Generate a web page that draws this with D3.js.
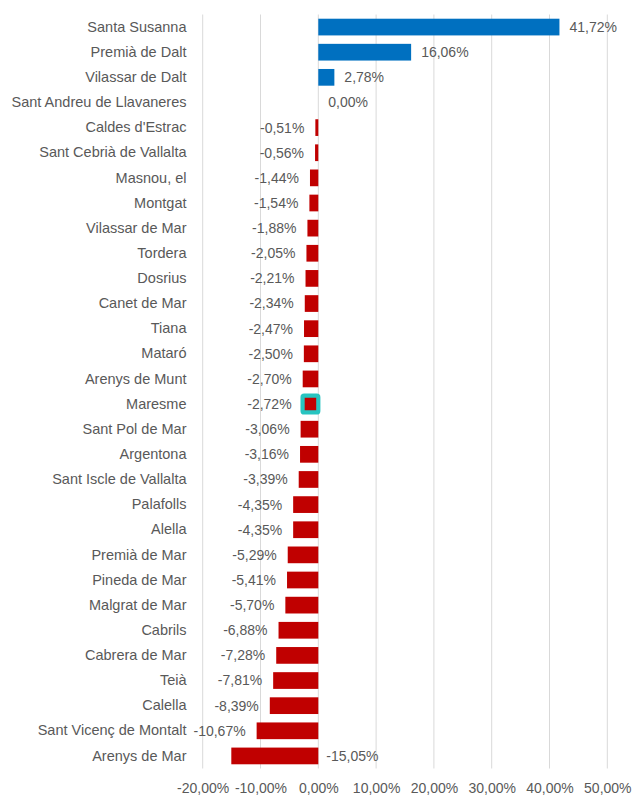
<!DOCTYPE html>
<html>
<head>
<meta charset="utf-8">
<script src="https://cdn.jsdelivr.net/npm/d3@7"></script>
<style>
  html, body { margin: 0; padding: 0; background: #fff; }
  svg { display: block; }
  text { font-family: "Liberation Sans", Arial, sans-serif; fill: #595959; }
</style>
</head>
<body>
<svg id="chart" width="633" height="796"></svg>
<script>
const categories = ["Santa Susanna","Premià de Dalt","Vilassar de Dalt","Sant Andreu de Llavaneres","Caldes d'Estrac","Sant Cebrià de Vallalta","Masnou, el","Montgat","Vilassar de Mar","Tordera","Dosrius","Canet de Mar","Tiana","Mataró","Arenys de Munt","Maresme","Sant Pol de Mar","Argentona","Sant Iscle de Vallalta","Palafolls","Alella","Premià de Mar","Pineda de Mar","Malgrat de Mar","Cabrils","Cabrera de Mar","Teià","Calella","Sant Vicenç de Montalt","Arenys de Mar"];
const values = [41.72,16.06,2.78,0.00,-0.51,-0.56,-1.44,-1.54,-1.88,-2.05,-2.21,-2.34,-2.47,-2.50,-2.70,-2.72,-3.06,-3.16,-3.39,-4.35,-4.35,-5.29,-5.41,-5.70,-6.88,-7.28,-7.81,-8.39,-10.67,-15.05];
const tickValues = [-20,-10,0,10,20,30,40,50];
const tickLabels = ["-20,00%","-10,00%","0,00%","10,00%","20,00%","30,00%","40,00%","50,00%"];
const highlighted = ["Maresme"];

const data = categories.map((c, i) => ({ name: c, value: values[i] }));
const svg = d3.select("#chart");
const fs = 14;

const x = d3.scaleLinear().domain([-20, 50]).range([202.7, 607.3]);
const y = d3.scaleBand().domain(categories).range([14.5, 768.5]).paddingInner(0.335).paddingOuter(0.1675);

// gridlines
svg.append("g").selectAll("line").data(tickValues).join("line")
  .attr("x1", d => x(d)).attr("x2", d => x(d))
  .attr("y1", 14.5).attr("y2", 768.5)
  .attr("stroke", "#d9d9d9").attr("stroke-width", 1);

// x axis tick labels
const xAxis = d3.axisBottom(x).tickValues(tickValues).tickSize(0).tickPadding(0)
  .tickFormat((d, i) => tickLabels[i]);
const gx = svg.append("g").attr("transform", "translate(0,783)").call(xAxis);
gx.select(".domain").remove();
gx.selectAll("text").attr("font-size", fs).attr("font-family", "Liberation Sans, Arial, sans-serif").attr("fill", "#595959");

// category labels
const yAxis = d3.axisLeft(y).tickSize(0).tickPadding(0);
const gy = svg.append("g").attr("transform", "translate(186.5,0)").call(yAxis);
gy.select(".domain").remove();
gy.selectAll("text").attr("font-size", 14.5).attr("font-family", "Liberation Sans, Arial, sans-serif").attr("fill", "#595959");

// bars
svg.append("g").selectAll("rect").data(data).join("rect")
  .attr("x", d => x(Math.min(0, d.value)))
  .attr("width", d => Math.abs(x(d.value) - x(0)))
  .attr("y", d => y(d.name))
  .attr("height", y.bandwidth())
  .attr("fill", d => d.value > 0 ? "#0070c0" : "#c00000");

// highlight box
svg.append("g").selectAll("rect").data(data.filter(d => highlighted.includes(d.name))).join("rect")
  .attr("x", d => x(Math.min(0, d.value)))
  .attr("width", d => Math.abs(x(d.value) - x(0)))
  .attr("y", d => y(d.name))
  .attr("height", y.bandwidth())
  .attr("rx", 1.5)
  .attr("fill", "none")
  .attr("stroke", "#27c4c0")
  .attr("stroke-width", 4.2);

// value labels
const fmt = v => d3.format(".2f")(v).replace(".", ",").replace("−", "-") + "%";
svg.append("g").selectAll("text").data(data).join("text")
  .attr("font-size", fs)
  .attr("dy", "0.35em")
  .attr("y", d => y(d.name) + y.bandwidth() / 2)
  .attr("x", d => {
    if (d.value >= 0) return x(d.value) + 10;
    if (d.value < -12) return x(0) + 8;
    return x(d.value) - 11;
  })
  .attr("text-anchor", d => (d.value >= 0 || d.value < -12) ? "start" : "end")
  .text(d => fmt(d.value));
</script>
</body>
</html>
